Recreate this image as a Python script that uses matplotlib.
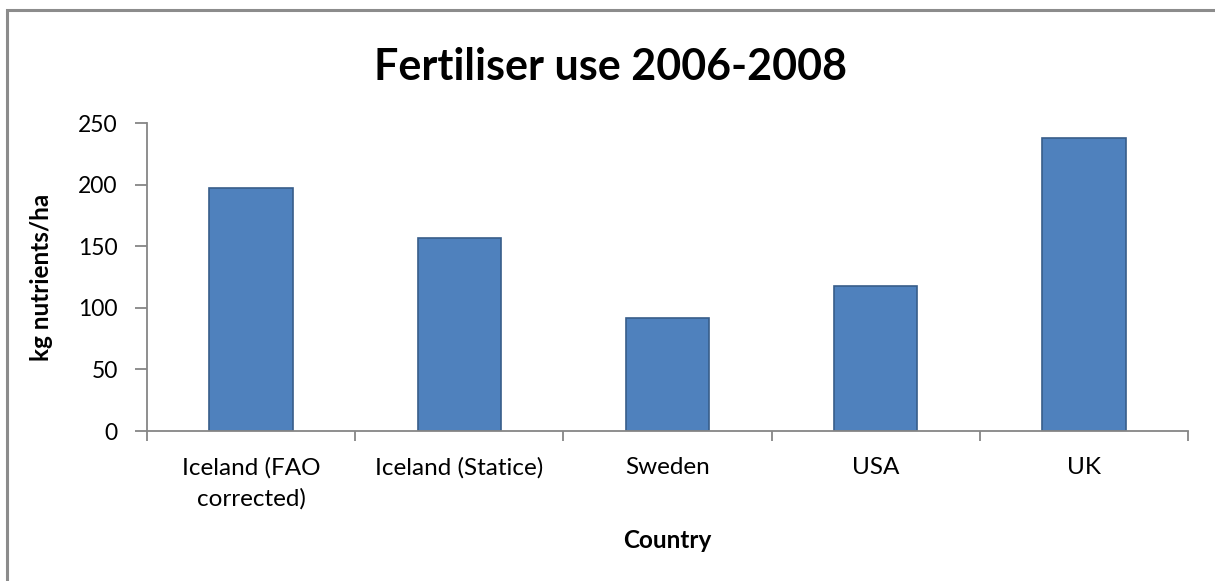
import matplotlib
matplotlib.use("Agg")
import matplotlib.pyplot as plt
from matplotlib.patches import Rectangle

countries = ["Iceland (FAO\ncorrected)", "Iceland (Statice)", "Sweden", "USA", "UK"]
fertiliser_kg_ha = [197.5, 156.5, 92, 117.5, 238]
y_ticks = [0, 50, 100, 150, 200, 250]

plt.rcParams["font.family"] = ["Lato", "DejaVu Sans"]

W, H = 1215, 581
fig = plt.figure(figsize=(W / 100, H / 100), dpi=100)
fig.patch.set_facecolor("white")

# chart-area border (only left and top edges fall within the canvas)
fig.patches.append(Rectangle((7 / W, -0.05), 1.2, 1 - 9.5 / H + 0.05,
                             transform=fig.transFigure, fill=False,
                             edgecolor="#8c8c8c", linewidth=2.2, zorder=0))

ax = fig.add_axes([147 / W, (H - 431) / H, (1188 - 147) / W, (431 - 123.3) / H])
x = range(len(countries))
ax.bar(x, fertiliser_kg_ha, width=0.4, color="#4F81BD",
       edgecolor="#385D8A", linewidth=1.2, zorder=2)

ax.set_xlim(-0.5, len(countries) - 0.5)
ax.set_ylim(0, 250)
ax.set_yticks(y_ticks)
ax.set_yticklabels([str(v) for v in y_ticks], fontsize=16.5)
ax.set_xticks([i - 0.5 for i in range(len(countries) + 1)])
ax.set_xticklabels([])
ax.set_xticks(list(x), minor=True)
ax.set_xticklabels(countries, minor=True, fontsize=17.5, linespacing=1.5)
ax.tick_params(axis="x", which="minor", length=0, pad=19)
ax.tick_params(axis="x", which="major", length=7, width=1.3, color="#868686", direction="out")
ax.tick_params(axis="y", length=9, width=1.3, color="#868686", direction="out", pad=12)

for side in ("top", "right"):
    ax.spines[side].set_visible(False)
for side in ("left", "bottom"):
    ax.spines[side].set_color("#868686")
    ax.spines[side].set_linewidth(1.3)

ax.set_ylabel("kg nutrients/ha", fontsize=17.5, fontweight="bold")
ax.set_xlabel("Country", fontsize=17.5, fontweight="bold")
ax.xaxis.set_label_coords(0.5, -(540 - 431) / (431 - 123.3))
ax.yaxis.set_label_coords(-(147 - 42) / (1188 - 147), 0.5)
ax.xaxis.label.set_va("center")
ax.yaxis.label.set_va("center")

fig.text(610 / W, 1 - 67 / H, "Fertiliser use 2006-2008", ha="center", va="center",
         fontsize=31, fontweight="bold")

fig.savefig("out.png", dpi=100)
